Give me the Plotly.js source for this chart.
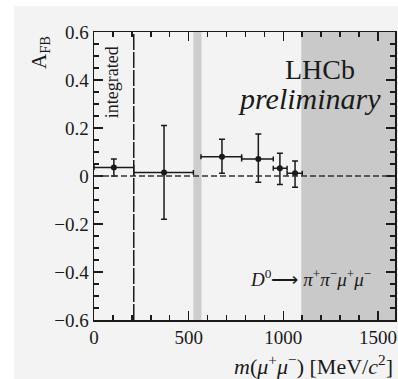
<!DOCTYPE html>
<html>
<head>
<meta charset="utf-8">
<script src="https://cdn.plot.ly/plotly-3.0.1.min.js"></script>
<style>
html,body{margin:0;padding:0;background:#ffffff;}
#bg{position:absolute;left:14px;top:6px;width:384px;height:373px;background:#f3f3f3;}
#chart{position:absolute;left:0;top:0;width:398px;height:379px;}
</style>
</head>
<body>
<div id="bg"></div>
<div id="chart"></div>
<script>
// Bin centres, bin edges and A_FB values
const binCentre = [105, 370, 676, 868, 982, 1062];
const binLow    = [0, 210, 565, 780, 947, 1020];
const binHigh   = [210, 525, 780, 947, 1020, 1100];
const afb       = [0.035, 0.015, 0.080, 0.071, 0.032, 0.011];
const errUp     = [0.036, 0.195, 0.073, 0.104, 0.063, 0.051];
const errDown   = [0.035, 0.195, 0.069, 0.097, 0.067, 0.058];
// vetoed mass regions (shaded)
const vetoNarrow = [525, 568];
const vetoWide   = [1095, 1590];
const separatorX = 210;
const xTicks = [0, 500, 1000, 1500];

const serif = "Liberation Serif, Times New Roman, serif";
const ink = "#1a1a1a";

const trace = {
  type: "scatter", mode: "markers",
  x: binCentre, y: afb,
  marker: {color: ink, size: 6},
  error_x: {type: "data", symmetric: false,
    array: binCentre.map((c, i) => binHigh[i] - c),
    arrayminus: binCentre.map((c, i) => c - binLow[i]),
    color: ink, thickness: 1.5, width: 2.5},
  error_y: {type: "data", symmetric: false,
    array: errUp, arrayminus: errDown,
    color: ink, thickness: 1.5, width: 3},
  hoverinfo: "skip", showlegend: false
};

const layout = {
  width: 398, height: 379,
  margin: {l: 94, r: 3, t: 32, b: 59},
  paper_bgcolor: "rgba(0,0,0,0)",
  plot_bgcolor: "rgba(0,0,0,0)",
  font: {family: serif, color: ink, size: 19},
  showlegend: false,
  xaxis: {
    range: [0, 1590], tickvals: xTicks, ticktext: xTicks.map(String),
    ticks: "inside", ticklen: 9, tickwidth: 1.5, tickcolor: ink,
    minor: {dtick: 100, tick0: 0, ticks: "inside", ticklen: 5, tickwidth: 1.5, tickcolor: ink},
    showline: true, linewidth: 1.5, linecolor: ink, mirror: "allticks",
    showgrid: false, zeroline: false,
    tickfont: {family: serif, size: 19, color: ink}
  },
  yaxis: {
    range: [-0.6, 0.6], dtick: 0.2, tick0: 0,
    ticks: "inside", ticklen: 9, tickwidth: 1.5, tickcolor: ink,
    minor: {dtick: 0.05, tick0: 0, ticks: "inside", ticklen: 5, tickwidth: 1.5, tickcolor: ink},
    showline: true, linewidth: 1.5, linecolor: ink, mirror: "allticks",
    showgrid: false, zeroline: false,
    tickfont: {family: serif, size: 19, color: ink}
  },
  shapes: [
    {type: "rect", xref: "x", yref: "paper", x0: vetoNarrow[0], x1: vetoNarrow[1], y0: 0, y1: 1,
     fillcolor: "#cdcdcd", line: {width: 0}, layer: "below"},
    {type: "rect", xref: "x", yref: "paper", x0: vetoWide[0], x1: vetoWide[1], y0: 0, y1: 1,
     fillcolor: "#c9c9c9", line: {width: 0}, layer: "below"},
    {type: "line", xref: "paper", yref: "y", x0: 0, x1: 1, y0: 0, y1: 0,
     line: {color: "#333", width: 1.5, dash: "6px,3px"}},
    {type: "line", xref: "x", yref: "paper", x0: separatorX, x1: separatorX, y0: 0, y1: 1,
     line: {color: ink, width: 1.5, dash: "16px,2px"}}
  ],
  annotations: [
    {text: "A<sub>FB</sub>", xref: "paper", yref: "paper", x: -0.18, y: 0.93,
     textangle: -90, showarrow: false, font: {family: serif, size: 21, color: ink},
     xanchor: "center", yanchor: "middle"},
    {text: "<i>m</i>(<i>μ</i><sup>+</sup><i>μ</i><sup>−</sup>) [MeV/<i>c</i><sup>2</sup>]",
     xref: "paper", yref: "paper", x: 1.0, y: -0.155, xanchor: "right", yanchor: "middle",
     showarrow: false, font: {family: serif, size: 22, color: ink}},
    {text: "LHCb", xref: "paper", yref: "paper", x: 0.75, y: 0.87,
     xanchor: "center", yanchor: "middle",
     showarrow: false, font: {family: serif, size: 28, color: ink}},
    {text: "<i>preliminary</i>", xref: "paper", yref: "paper", x: 0.96, y: 0.768,
     xanchor: "right", yanchor: "middle", showarrow: false, font: {family: serif, size: 30, color: ink}},
    {text: "integrated", xref: "paper", yref: "paper", x: 0.06, y: 0.826,
     xanchor: "center", yanchor: "middle",
     textangle: -90, showarrow: false, font: {family: serif, size: 18, color: ink}},
    {text: "<i>D</i><sup>0</sup>⟶ <i>π</i><sup>+</sup><i>π</i><sup>−</sup><i>μ</i><sup>+</sup><i>μ</i><sup>−</sup>",
     xref: "paper", yref: "paper", x: 0.72, y: 0.146, xanchor: "center", yanchor: "middle",
     showarrow: false, font: {family: serif, size: 19, color: ink}}
  ]
};

Plotly.newPlot("chart", [trace], layout, {staticPlot: true, displayModeBar: false});
</script>
</body>
</html>
